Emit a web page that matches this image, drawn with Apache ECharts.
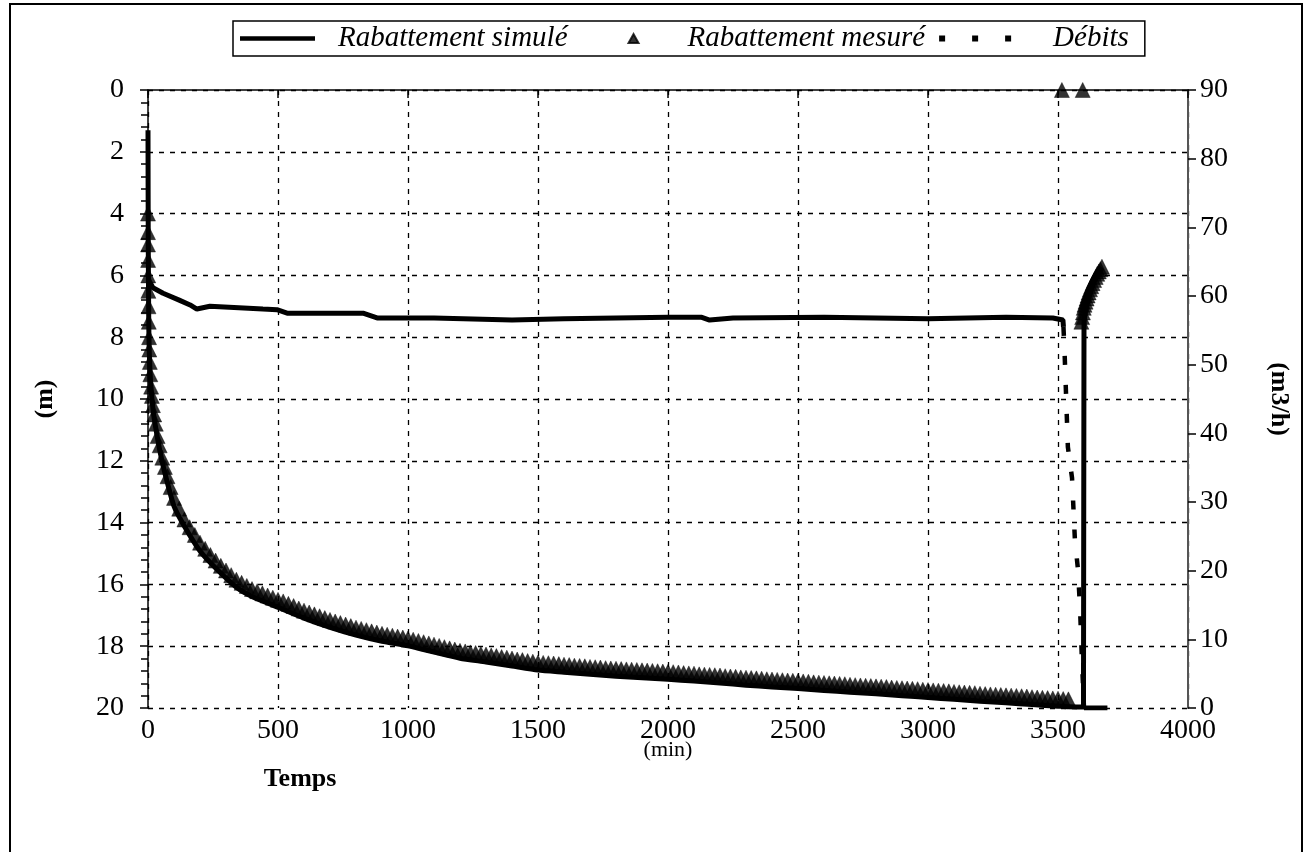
<!DOCTYPE html>
<html>
<head>
<meta charset="utf-8">
<script src="https://cdn.jsdelivr.net/npm/echarts@6/dist/echarts.min.js"></script>
<style>html,body{margin:0;padding:0;background:#fff}#c{width:1305px;height:852px}</style>
</head>
<body>
<div id="c"></div>
<script>
// ---- Data (time in min, drawdown in m, flow in m3/h) ----
const xTicks = [0, 500, 1000, 1500, 2000, 2500, 3000, 3500, 4000];
const leftTicks = [0, 2, 4, 6, 8, 10, 12, 14, 16, 18, 20];
const rightTicks = [0, 10, 20, 30, 40, 50, 60, 70, 80, 90];

const rabSimule = [
  [0,1.3],[1,5.0],[3,7.6],[5,8.5],[10,9.45],[20,10.4],[30,10.95],[45,11.65],[65,12.4],[100,13.47],
  [140,14.12],[200,14.92],[260,15.47],[340,16.09],[400,16.39],[500,16.74],[600,17.09],[700,17.39],
  [800,17.64],[900,17.84],[1000,17.99],[1100,18.19],[1200,18.39],[1300,18.51],[1400,18.64],[1500,18.77],
  [1600,18.84],[1700,18.91],[1800,18.97],[1900,19.02],[2000,19.07],[2100,19.13],[2200,19.19],[2300,19.26],
  [2400,19.32],[2500,19.37],[2600,19.43],[2700,19.49],[2800,19.54],[2900,19.6],[3000,19.66],[3100,19.72],
  [3200,19.78],[3300,19.83],[3400,19.89],[3500,19.94],[3540,19.96],[3598,19.97],
  [3600,7.6],[3610,7.0],[3630,6.4],[3650,6.0],[3670,5.75]
];

const rabMesure = [
  [0,4.0],[0,4.6],[0,5.0],[0.5,5.5],[1,6.0],[1.5,6.5],[2,7.0],[3,7.5],[4,8.0],[5,8.4],
  [7,8.8],[9,9.2],[12,9.6],[15,9.9],[19,10.2],[24,10.5],[30,10.8],[37,11.2],[45,11.5],
  [55,11.9],[65,12.2],[75,12.5],[87,12.85],[100,13.2],
  [120,13.55],[140,13.9],[160,14.15],[180,14.4],[200,14.65],[220,14.85],[240,15.05],[260,15.23],
  [280,15.4],[300,15.55],[320,15.7],[340,15.85],[360,15.95],[380,16.05],[400,16.15],[420,16.22],
  [440,16.29],[460,16.36],[480,16.43],[500,16.5],[520,16.55],[540,16.63],[560,16.7],[580,16.78],
  [600,16.85],[620,16.91],[640,16.97],[660,17.03],[680,17.09],[700,17.15],[720,17.2],[740,17.25],
  [760,17.3],[780,17.35],[800,17.4],[820,17.44],[840,17.48],[860,17.52],[880,17.56],[900,17.6],
  [920,17.63],[940,17.66],[960,17.69],[980,17.72],[1000,17.75],[1020,17.79],[1040,17.83],[1060,17.87],
  [1080,17.91],[1100,17.95],[1120,17.99],[1140,18.03],[1160,18.07],[1180,18.11],[1200,18.15],[1220,18.17],
  [1240,18.2],[1260,18.22],[1280,18.25],[1300,18.27],[1320,18.3],[1340,18.32],[1360,18.35],[1380,18.37],
  [1400,18.4],[1420,18.43],[1440,18.45],[1460,18.48],[1480,18.5],[1500,18.53],[1520,18.54],[1540,18.55],
  [1560,18.56],[1580,18.58],[1600,18.6],[1620,18.61],[1640,18.63],[1660,18.64],[1680,18.65],[1700,18.67],
  [1720,18.68],[1740,18.69],[1760,18.71],[1780,18.72],[1800,18.73],[1820,18.74],[1840,18.75],[1860,18.76],
  [1880,18.77],[1900,18.78],[1920,18.79],[1940,18.8],[1960,18.81],[1980,18.82],[2000,18.83],[2020,18.84],
  [2040,18.85],[2060,18.87],[2080,18.88],[2100,18.89],[2120,18.91],[2140,18.92],[2160,18.93],[2180,18.94],
  [2200,18.95],[2220,18.97],[2240,18.98],[2260,18.99],[2280,19.01],[2300,19.02],[2320,19.03],[2340,19.04],
  [2360,19.05],[2380,19.07],[2400,19.08],[2420,19.09],[2440,19.1],[2460,19.11],[2480,19.12],[2500,19.13],
  [2520,19.14],[2540,19.15],[2560,19.17],[2580,19.18],[2600,19.19],[2620,19.2],[2640,19.21],[2660,19.22],
  [2680,19.23],[2700,19.25],[2720,19.26],[2740,19.27],[2760,19.28],[2780,19.29],[2800,19.3],[2820,19.31],
  [2840,19.32],[2860,19.34],[2880,19.35],[2900,19.36],[2920,19.37],[2940,19.38],[2960,19.39],[2980,19.41],
  [3000,19.42],[3020,19.43],[3040,19.44],[3060,19.45],[3080,19.46],[3100,19.48],[3120,19.49],[3140,19.5],
  [3160,19.51],[3180,19.52],[3200,19.54],[3220,19.55],[3240,19.56],[3260,19.57],[3280,19.58],[3300,19.59],
  [3320,19.6],[3340,19.61],[3360,19.62],[3380,19.63],[3400,19.65],[3420,19.66],[3440,19.67],[3460,19.68],
  [3480,19.69],[3500,19.7],[3520,19.71],[3540,19.72],
  [3515,0],[3595,0],
  [3590,7.5],[3593,7.35],[3596,7.2],[3599,7.05],[3602,6.95],[3606,6.85],[3610,6.75],[3614,6.65],
  [3618,6.55],[3623,6.45],[3628,6.35],[3633,6.25],[3639,6.15],[3645,6.05],[3651,5.95],[3657,5.87],
  [3663,5.8],[3669,5.72]
];

const debitsPalier = [
  [0,62.5],[19,61.2],[58,60.4],[120,59.4],[162,58.7],[188,58.1],[238,58.5],[442,58.1],[496,58.0],
  [535,57.5],[827,57.5],[881,56.8],[1100,56.8],[1400,56.5],[1600,56.7],[2000,56.9],[2130,56.9],
  [2160,56.5],[2250,56.8],[2600,56.9],[3000,56.7],[3300,56.9],[3480,56.8],[3519,56.5],[3521,55.5],
  [3560,null],[3600,0],[3690,0]
];
const debitsArret = [
  [3521,55.5],[3525,52.1],[3538,38.0],[3554,33.5],[3565,24.5],[3577,20.1],[3585,14.3],[3592,7.0],[3600,0]
];

const FONT = '"Liberation Serif", "Times New Roman", serif';

const chart = echarts.init(document.getElementById('c'), null, {renderer: 'canvas'});
const splitStyle = {show: true, lineStyle: {color: '#000', width: 1.3, type: [5, 6]}};
const legendText = (pad) => ({fontFamily: FONT, fontStyle: 'italic', fontSize: 29, color: '#000', padding: [0, 0, 0, pad]});

chart.setOption({
  backgroundColor: '#fff',
  animation: false,
  grid: {left: 148, right: 117, top: 90, bottom: 144, containLabel: false},
  legend: {
    left: 233, top: 21,
    itemWidth: 75, itemHeight: 12, itemGap: 14,
    padding: [3, 16, 3, 7],
    borderColor: '#000', borderWidth: 1.5,
    textStyle: legendText(18),
    data: [
      {name: 'Rabattement simulé', icon: 'path://M0,0M75,12M0,3.75H75V8.25H0Z', textStyle: legendText(18)},
      {name: 'Rabattement mesuré', icon: 'path://M0,0M75,12M46,10.5L51,1.5L56,10.5Z', textStyle: legendText(25)},
      {name: 'Débits', icon: 'path://M0,0M75,12M0,3h6v6h-6zM33,3h6v6h-6zM66,3h6v6h-6z', textStyle: legendText(34)}
    ]
  },
  xAxis: {
    type: 'value', min: 0, max: 4000, interval: 500,
    axisLine: {lineStyle: {color: '#000', width: 1.5}},
    axisTick: {length: 8, lineStyle: {color: '#000', width: 1.5}},
    axisLabel: {fontFamily: FONT, fontSize: 28, color: '#000', margin: 9, formatter: v => String(v)},
    splitLine: splitStyle
  },
  yAxis: [
    {
      type: 'value', inverse: true, min: 0, max: 20, interval: 2, position: 'left',
      name: '(m)', nameLocation: 'middle', nameGap: 90, nameRotate: 90,
      nameTextStyle: {fontFamily: FONT, fontWeight: 'bold', fontSize: 26, color: '#000'},
      axisLine: {show: true, lineStyle: {color: '#000', width: 1.5}},
      axisTick: {show: true, length: 8, lineStyle: {color: '#000', width: 1.5}},
      minorTick: {show: true, splitNumber: 5, length: 7, lineStyle: {color: '#000', width: 1.5}},
      axisLabel: {fontFamily: FONT, fontSize: 28, color: '#000', margin: 24},
      splitLine: splitStyle
    },
    {
      type: 'value', min: 0, max: 90, interval: 10, position: 'right',
      name: '(m3/h)', nameLocation: 'middle', nameGap: 78, nameRotate: -90,
      nameTextStyle: {fontFamily: FONT, fontWeight: 'bold', fontSize: 26, color: '#000'},
      axisLine: {show: true, lineStyle: {color: '#555', width: 2}},
      axisTick: {show: true, length: 8, lineStyle: {color: '#000', width: 1.5}},
      axisLabel: {fontFamily: FONT, fontSize: 28, color: '#000', margin: 12},
      splitLine: {show: false}
    }
  ],
  series: [
    {
      name: 'Rabattement simulé', type: 'line', yAxisIndex: 0, data: rabSimule,
      showSymbol: false, symbol: 'none', color: '#000', smooth: 0.2,
      lineStyle: {color: '#000', width: 5}, z: 2
    },
    {
      name: 'Rabattement mesuré', type: 'scatter', yAxisIndex: 0, data: rabMesure,
      symbol: 'triangle', symbolSize: 15, color: '#000',
      itemStyle: {color: '#000', borderColor: '#000', borderWidth: 0.5}, z: 3
    },
    {
      name: 'Débits', type: 'line', yAxisIndex: 1, data: debitsArret,
      showSymbol: false, symbol: 'none', color: '#000',
      lineStyle: {color: '#000', width: 4.5, type: [9, 20]}, z: 4
    },
    {
      name: 'Débits (palier)', type: 'line', yAxisIndex: 1, data: debitsPalier,
      showSymbol: false, symbol: 'none', color: '#000', connectNulls: false,
      lineStyle: {color: '#000', width: 5}, z: 4
    }
  ],
  graphic: [
    {type: 'rect', shape: {x: 10, y: 4, width: 1292, height: 900}, style: {fill: 'none', stroke: '#000', lineWidth: 2}, silent: true},
    {type: 'text', x: 668, y: 750, style: {text: '(min)', font: '22px ' + FONT, fill: '#000', textAlign: 'center', textVerticalAlign: 'middle'}},
    {type: 'text', x: 300, y: 779, style: {text: 'Temps', font: 'bold 26px ' + FONT, fill: '#000', textAlign: 'center', textVerticalAlign: 'middle'}}
  ]
});
</script>
</body>
</html>
